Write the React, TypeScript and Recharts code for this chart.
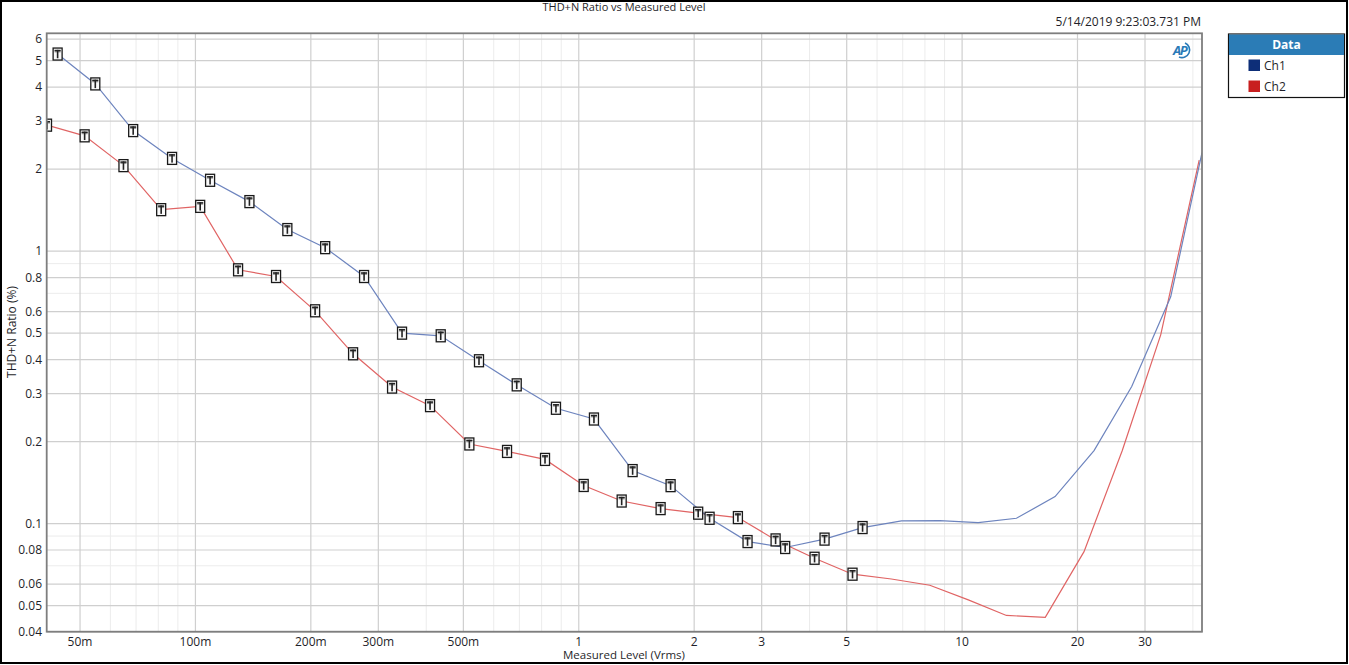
import React from "react";
import { LineChart, Line, XAxis, YAxis, CartesianGrid } from "recharts";

const ch1Level = [
  0.0437, 0.0548, 0.0688, 0.0869, 0.1092, 0.1383, 0.1737, 0.218, 0.2754, 0.3459, 0.4364,
  0.5492, 0.6889, 0.8719, 1.0955, 1.382, 1.736, 2.194, 2.756, 3.455, 4.377, 5.5,
  6.95, 8.748, 11.01, 13.86, 17.48, 22.09, 27.7, 35.01, 42.25,
];
const ch1Thdn = [
  5.29, 4.11, 2.77, 2.19, 1.82, 1.52, 1.2, 1.03, 0.807, 0.5, 0.489,
  0.396, 0.323, 0.265, 0.242, 0.1565, 0.1378, 0.1046, 0.0859, 0.0817, 0.0877, 0.0967,
  0.1023, 0.1025, 0.1009, 0.1046, 0.1256, 0.1853, 0.3184, 0.68, 2.3,
];
const ch2Level = [
  0.041, 0.0514, 0.0649, 0.0814, 0.1029, 0.1292, 0.1623, 0.2052, 0.2578, 0.3258, 0.4093,
  0.5183, 0.65, 0.8165, 1.03, 1.294, 1.635, 2.049, 2.601, 3.262, 4.122, 5.178,
  6.538, 8.238, 10.38, 13.05, 16.48, 20.8, 26.16, 32.97, 41.54,
];
const ch2Thdn = [
  2.9, 2.65, 2.06, 1.42, 1.46, 0.854, 0.807, 0.604, 0.42, 0.317, 0.271,
  0.196, 0.184, 0.172, 0.138, 0.121, 0.1135, 0.1092, 0.1052, 0.0871, 0.0746, 0.0652,
  0.0626, 0.0594, 0.0525, 0.046, 0.0453, 0.0789, 0.185, 0.493, 2.16,
];
// the first points of each sweep carry a "T" marker
const markedPoints = 22;

const xTicks = [0.05, 0.1, 0.2, 0.3, 0.5, 1, 2, 3, 5, 10, 20, 30];
const xMinor = [0.06, 0.07, 0.08, 0.09, 0.4, 0.6, 0.7, 0.8, 0.9, 4, 6, 7, 8, 9, 40];
const yTicks = [0.04, 0.05, 0.06, 0.08, 0.1, 0.2, 0.3, 0.4, 0.5, 0.6, 0.8, 1, 2, 3, 4, 5, 6];
const yMinor = [0.07, 0.09, 0.7, 0.9];

const ch1 = ch1Level.map((x, i) => ({ x, y: ch1Thdn[i], m: i < markedPoints }));
const ch2 = ch2Level.map((x, i) => ({ x, y: ch2Thdn[i], m: i < markedPoints }));

const FONT = "'Open Sans', 'Noto Sans', sans-serif";
const TEXT = "#1f1f2a";

function fmtLevel(v: number) {
  return v < 1 ? `${Math.round(v * 1000)}m` : `${v}`;
}

function renderMarker(props: any) {
  const { cx, cy, payload, index } = props;
  if (!payload || !payload.m || cx == null || cy == null) return <g key={`d${index}`} />;
  return (
    <g key={`d${index}`}>
      <rect x={cx - 4.5} y={cy - 6} width={9} height={12} fill="#fafafa" stroke="#1a1a1a" strokeWidth={1.3} />
      <rect x={cx - 3} y={cy - 4.2} width={6} height={2.6} fill="#9a9a9a" />
      <rect x={cx - 3} y={cy - 4.2} width={6} height={1.4} fill="#222" />
      <rect x={cx - 0.8} y={cy - 4.2} width={1.6} height={8.4} fill="#222" />
    </g>
  );
}

function Overlay() {
  return (
    <svg width={1349} height={665} style={{ position: "absolute", left: 0, top: 0, pointerEvents: "none" }}>
      <rect x={1} y={1} width={1346} height={662} fill="none" stroke="#000" strokeWidth={2} />
      <rect x={46.7} y={33.3} width={1155.3} height={598.4} fill="none" stroke="#7e7e7e" strokeWidth={1.8} />
      <text x={624} y={11} textAnchor="middle" fontFamily={FONT} fontSize={11} fill={TEXT}>
        THD+N Ratio vs Measured Level
      </text>
      <text x={1201} y={26} textAnchor="end" fontFamily={FONT} fontSize={12} fill={TEXT}>
        5/14/2019 9:23:03.731 PM
      </text>
      <text x={1173} y={55} fontFamily={FONT} fontSize={13} fontWeight="bold" fontStyle="italic" fill="#2a7ab8" letterSpacing={-1.5}>
        AP
      </text>
      <path d="M1185,43 A7.5,7.5 0 0 1 1179,57" fill="none" stroke="#2a7ab8" strokeWidth={1.6} />
      <text
        x={16}
        y={332}
        transform="rotate(-90 16 332)"
        textAnchor="middle"
        fontFamily={FONT}
        fontSize={12}
        fill={TEXT}
      >
        THD+N Ratio (%)
      </text>
      <text x={624} y={659} textAnchor="middle" fontFamily={FONT} fontSize={11.5} fill={TEXT}>
        Measured Level (Vrms)
      </text>
      <g>
        <rect x={1228.5} y={34} width={116} height={63.5} fill="#fff" stroke="#111" strokeWidth={1.2} />
        <rect x={1229} y={34.5} width={115} height={20.5} fill="#2b7cb6" />
        <text x={1286.5} y={49} textAnchor="middle" fontFamily={FONT} fontSize={12} fontWeight="bold" fill="#fff">
          Data
        </text>
        <rect x={1248.5} y={59.5} width={11.5} height={11.5} fill="#0d2e78" />
        <text x={1264} y={70} fontFamily={FONT} fontSize={12} fill={TEXT}>
          Ch1
        </text>
        <rect x={1248.5} y={80.5} width={11.5} height={11.5} fill="#c81f1f" />
        <text x={1264} y={91} fontFamily={FONT} fontSize={12} fill={TEXT}>
          Ch2
        </text>
      </g>
    </svg>
  );
}

export default function App() {
  return (
    <div style={{ position: "absolute", left: 0, top: 0, width: 1349, height: 665, background: "#fff" }}>
      <LineChart width={1349} height={665} margin={{ top: 33, right: 147, left: 1, bottom: 13 }}>
        <CartesianGrid stroke="#ececec" strokeWidth={1} verticalValues={xMinor} horizontalValues={yMinor} />
        <CartesianGrid stroke="#cfcfcf" strokeWidth={1.2} verticalValues={xTicks} horizontalValues={yTicks} />
        <XAxis
          type="number"
          dataKey="x"
          scale="log"
          domain={[0.041, 42.25]}
          allowDataOverflow
          ticks={xTicks}
          interval={0}
          tickFormatter={fmtLevel}
          tickLine={false}
          axisLine={false}
          tickSize={3}
          tickMargin={2}
          height={20}
          tick={{ fontFamily: FONT, fontSize: 12, fill: TEXT }}
        />
        <YAxis
          type="number"
          dataKey="y"
          scale="log"
          domain={[0.04, 6.32]}
          allowDataOverflow
          ticks={yTicks}
          interval={0}
          tickLine={false}
          axisLine={false}
          tickSize={3}
          tickMargin={2}
          width={46}
          tick={{ fontFamily: FONT, fontSize: 12, fill: TEXT }}
        />
        <Line
          data={ch2}
          dataKey="y"
          stroke="#e06464"
          strokeWidth={1.2}
          dot={renderMarker}
          activeDot={false}
          isAnimationActive={false}
        />
        <Line
          data={ch1}
          dataKey="y"
          stroke="#6d84be"
          strokeWidth={1.2}
          dot={renderMarker}
          activeDot={false}
          isAnimationActive={false}
        />
      </LineChart>
      <Overlay />
    </div>
  );
}
